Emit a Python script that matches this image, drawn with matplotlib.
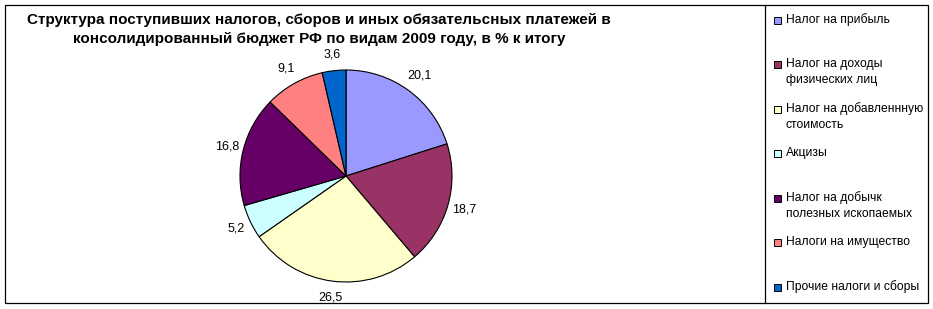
import numpy as np
import matplotlib
matplotlib.use("Agg")
import matplotlib.pyplot as plt
from matplotlib.patches import Rectangle
from matplotlib.lines import Line2D

plt.rcParams['font.family'] = ['Liberation Sans', 'DejaVu Sans']

categories = ['Налог на прибыль', 'Налог на доходы\nфизических лиц',
              'Налог на добавленнную\nстоимость', 'Акцизы',
              'Налог на добычк\nполезных ископаемых', 'Налоги на имущество',
              'Прочие налоги и сборы']
values = [20.1, 18.7, 26.5, 5.2, 16.8, 9.1, 3.6]
value_labels = ['20,1', '18,7', '26,5', '5,2', '16,8', '9,1', '3,6']
colors = ['#9999FF', '#993366', '#FFFFCC', '#CCFFFF', '#660066', '#FF8080', '#0066CC']
title = 'Структура поступивших налогов, сборов и иных обязательсных платежей в\nконсолидированный бюджет РФ по видам 2009 году, в % к итогу'

W, H = 933, 309
fig = plt.figure(figsize=(W / 100, H / 100), dpi=100)
fig.patch.set_facecolor('white')

# pie axes: center (346,176) px, radius 106 px
cx, cy, rpx = 346, 176, 106
half = 140
ax = fig.add_axes([(cx - half) / W, (H - cy - half) / H, 2 * half / W, 2 * half / H])
wedges, _ = ax.pie(values, colors=colors, startangle=90, counterclock=False,
                   wedgeprops=dict(edgecolor='black', linewidth=0.8))
lim = half / rpx
ax.set_xlim(-lim, lim)
ax.set_ylim(-lim, lim)
ax.set_aspect('equal')
ax.axis('off')

# value labels placed outside the wedges
total = sum(values)
cum = np.cumsum([0] + values)
for v, lab, c0 in zip(values, value_labels, cum[:-1]):
    ang = np.deg2rad(90 - (c0 + v / 2) / total * 360)
    c, s = np.cos(ang), np.sin(ang)
    hw = 0.0055 * 3.0 * len(lab)
    hh = 0.065
    d = 1.08 + abs(c) * hw + abs(s) * hh
    ax.text(d * c, d * s, lab, ha='center', va='center', fontsize=9, color='black')

# title
fig.text(319 / W, 1 - 29.5 / H, title, ha='center', va='center', fontsize=11,
         fontweight='bold', linespacing=1.4)

# frame and separator
fig.add_artist(Rectangle((5 / W, 1 - 303 / H), (928 - 5) / W, (303 - 5) / H,
                         transform=fig.transFigure, fill=False, edgecolor='black', linewidth=0.9))
fig.add_artist(Line2D([765 / W, 765 / W], [1 - 303 / H, 1 - 5 / H],
                      transform=fig.transFigure, color='black', linewidth=0.9))

# legend
legend_y = [20, 64, 109, 153, 198, 242, 287]
for lab, col, y in zip(categories, colors, legend_y):
    fig.add_artist(Rectangle((774 / W, 1 - (y + 3.5) / H), 7 / W, 7 / H,
                             transform=fig.transFigure, facecolor=col,
                             edgecolor='black', linewidth=0.7))
    for i, ln in enumerate(lab.split('\n')):
        fig.text(786 / W, 1 - (y + 16 * i) / H, ln, ha='left', va='center',
                 fontsize=8.7, color='black')

fig.savefig('out.png', dpi=100, facecolor='white')
